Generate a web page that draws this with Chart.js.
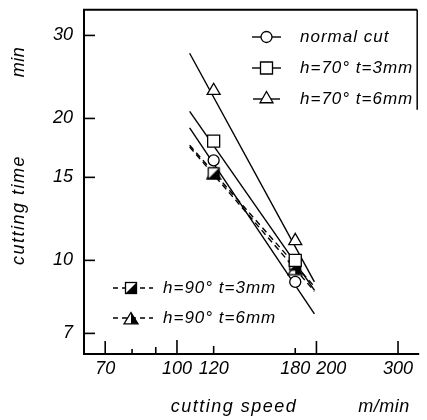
<!DOCTYPE html>
<html><head><meta charset="utf-8">
<script src="https://cdn.jsdelivr.net/npm/chart.js@4.4.0/dist/chart.umd.min.js"></script>
<style>html,body{margin:0;padding:0;background:#fff}canvas{display:block}</style>
</head><body>
<canvas id="c" width="427" height="420"></canvas>
<script>
// measured cutting speeds (m/min) and cutting times (min)
const speeds = [120, 180];
const normalCut = [16.3, 9.0];
const h70t3 = [17.9, 10.0];
const h70t6 = [22.9, 11.0];
const h90t3 = [15.3, 9.8];
const h90t6 = [15.3, 9.6];
// fitted straight lines: speed range and end values
const lineSpeeds = [106.5, 198];
const normalCutLine = [19.1, 7.7];
const h70t3Line = [20.7, 8.65];
const h70t6Line = [27.5, 9.0];
const h90t3Line = [17.55, 8.8];
const h90t6Line = [17.4, 8.6];
// axes
const xTicks = [70, 100, 120, 180, 200, 300];
const xMinorTicks = [80, 90];
const yTicks = [7, 10, 15, 20, 30];
const xRange = [63, 330];
const yRange = [6.33, 34];
// texts
const seriesNames = ['normal cut', 'h=70° t=3mm', 'h=70° t=6mm', 'h=90° t=3mm', 'h=90° t=6mm'];
const yTitle = ['cutting time', 'min'];
const xTitle = ['cutting speed', 'm/min'];

const FONT = '"Liberation Sans", "DejaVu Sans", sans-serif';

function halfSquare() {
  const c = document.createElement('canvas'); c.width = 14; c.height = 14;
  const g = c.getContext('2d');
  g.fillStyle = '#fff'; g.fillRect(1, 1, 12, 12);
  g.fillStyle = '#000';
  g.beginPath(); g.moveTo(13, 1); g.lineTo(13, 13); g.lineTo(1, 13); g.closePath(); g.fill();
  g.strokeStyle = '#000'; g.lineWidth = 1.3; g.strokeRect(1.5, 1.5, 11, 11);
  return c;
}
function halfTriangle() {
  const c = document.createElement('canvas'); c.width = 16; c.height = 14;
  const g = c.getContext('2d');
  g.fillStyle = '#fff';
  g.beginPath(); g.moveTo(8, 1.5); g.lineTo(15, 12.8); g.lineTo(1, 12.8); g.closePath(); g.fill();
  g.fillStyle = '#000';
  g.beginPath(); g.moveTo(8, 1.5); g.lineTo(15, 12.8); g.lineTo(8, 12.8); g.closePath(); g.fill();
  g.strokeStyle = '#000'; g.lineWidth = 1.3;
  g.beginPath(); g.moveTo(8, 1.5); g.lineTo(15, 12.8); g.lineTo(1, 12.8); g.closePath(); g.stroke();
  return c;
}
const hsq = halfSquare(), htr = halfTriangle();

const pts = (xs, ys) => xs.map((v, i) => ({x: v, y: ys[i]}));

const markerStyles = [
  {pointStyle: 'circle', pointRadius: 5.5},
  {pointStyle: 'rect', pointRadius: 8.5},
  {pointStyle: 'triangle', pointRadius: 7.5},
  {pointStyle: hsq, pointRadius: 7},
  {pointStyle: htr, pointRadius: 7}
];
const lineSets = [normalCutLine, h70t3Line, h70t6Line, h90t3Line, h90t6Line];
const markSets = [normalCut, h70t3, h70t6, h90t3, h90t6];
const dashes = [[], [], [], [6, 4], [6, 4]];

const datasets = [];
lineSets.forEach((ys, i) => datasets.push({
  label: seriesNames[i] + ' line', data: pts(lineSpeeds, ys), order: 2,
  borderColor: '#000', borderWidth: 1.4, borderDash: dashes[i], pointRadius: 0, fill: false, tension: 0
}));
markSets.forEach((ys, i) => datasets.push({
  label: seriesNames[i], data: pts(speeds, ys), order: 1, showLine: false,
  pointStyle: markerStyles[i].pointStyle, pointRadius: markerStyles[i].pointRadius,
  pointBackgroundColor: '#fff', pointBorderColor: '#000', pointBorderWidth: 1.3
}));

function seg(ctx, x1, y1, x2, y2) { ctx.beginPath(); ctx.moveTo(x1, y1); ctx.lineTo(x2, y2); ctx.stroke(); }

const decor = {
  id: 'decor',
  beforeDatasetsDraw(chart) {
    const {ctx, chartArea: a, scales: {x, y}} = chart;
    ctx.save();
    ctx.strokeStyle = '#000'; ctx.fillStyle = '#000'; ctx.setLineDash([]);
    ctx.lineWidth = 2;
    ctx.beginPath();
    ctx.moveTo(a.right, a.top); ctx.lineTo(a.left, a.top); ctx.lineTo(a.left, a.bottom); ctx.lineTo(a.right + 2, a.bottom);
    ctx.stroke();
    ctx.lineWidth = 1.5;
    seg(ctx, a.right, a.top, a.right, a.top + 100);
    // y ticks
    ctx.lineWidth = 1.6;
    yTicks.forEach(v => { const p = y.getPixelForValue(v); seg(ctx, a.left, p, a.left + 11, p); });
    const xLen = {70: 13, 100: 14, 120: 8, 180: 6, 200: 13, 300: 13, 80: 5, 90: 7};
    xTicks.concat(xMinorTicks).forEach(v => { const p = x.getPixelForValue(v); seg(ctx, p, a.bottom, p, a.bottom - xLen[v]); });
    // tick labels
    ctx.font = 'italic 18px ' + FONT;
    ctx.textAlign = 'right'; ctx.textBaseline = 'middle';
    yTicks.forEach(v => ctx.fillText(String(v), a.left - 11, y.getPixelForValue(v)));
    ctx.textAlign = 'left';
    let prevRight = -1e9;
    xTicks.forEach(v => {
      const s = String(v), w = ctx.measureText(s).width;
      let left = x.getPixelForValue(v) - w / 2;
      if (left < prevRight + 6) left = prevRight + 6;
      ctx.fillText(s, left, a.bottom + 15);
      prevRight = left + w;
    });
    // axis titles
    ctx.font = 'italic 18px ' + FONT;
    ctx.letterSpacing = '1.5px';
    ctx.textAlign = 'center'; ctx.textBaseline = 'middle';
    ctx.fillText(xTitle[0], 234, a.bottom + 53);
    ctx.letterSpacing = '0.5px';
    ctx.fillText(xTitle[1], 384, a.bottom + 53);
    ctx.save();
    ctx.translate(19, 0); ctx.rotate(-Math.PI / 2);
    ctx.letterSpacing = '1.5px';
    ctx.fillText(yTitle[0], -210, 0);
    ctx.letterSpacing = '0.5px';
    ctx.fillText(yTitle[1], -62, 0);
    ctx.restore();
    // legends
    ctx.font = 'italic 17px ' + FONT;
    ctx.textAlign = 'left';
    const legendRows = [
      {i: 0, x1: 252, x2: 281, y: 37, tx: 300},
      {i: 1, x1: 252, x2: 281, y: 68, tx: 300},
      {i: 2, x1: 253, x2: 280, y: 99, tx: 300},
      {i: 3, x1: 113, x2: 153, y: 288, tx: 163},
      {i: 4, x1: 113, x2: 153, y: 318, tx: 163}
    ];
    legendRows.forEach(r => {
      ctx.lineWidth = 1.4;
      ctx.setLineDash(dashes[r.i].length ? [5, 4] : []);
      seg(ctx, r.x1, r.y, r.x2, r.y);
      ctx.setLineDash([]);
      ctx.fillStyle = '#fff'; ctx.strokeStyle = '#000'; ctx.lineWidth = 1.3;
      Chart.helpers.drawPoint(ctx, {pointStyle: markerStyles[r.i].pointStyle, radius: markerStyles[r.i].pointRadius, rotation: 0, borderWidth: 1.3},
        (r.x1 + r.x2) / 2 + (r.i >= 3 ? -2 : 0), r.y);
      ctx.fillStyle = '#000';
      ctx.letterSpacing = '1px';
      ctx.fillText(seriesNames[r.i], r.tx, r.y);
      ctx.letterSpacing = '0px';
    });
    ctx.restore();
  }
};

new Chart(document.getElementById('c'), {
  type: 'line',
  data: {datasets},
  options: {
    responsive: false, devicePixelRatio: 1, animation: false,
    layout: {padding: {left: 84, right: 2, top: 5, bottom: 66}},
    plugins: {legend: {display: false}, tooltip: {enabled: false}},
    scales: {
      x: {type: 'logarithmic', min: xRange[0], max: xRange[1], display: false},
      y: {type: 'logarithmic', min: yRange[0], max: yRange[1], display: false}
    }
  },
  plugins: [decor]
});
</script>
</body></html>
